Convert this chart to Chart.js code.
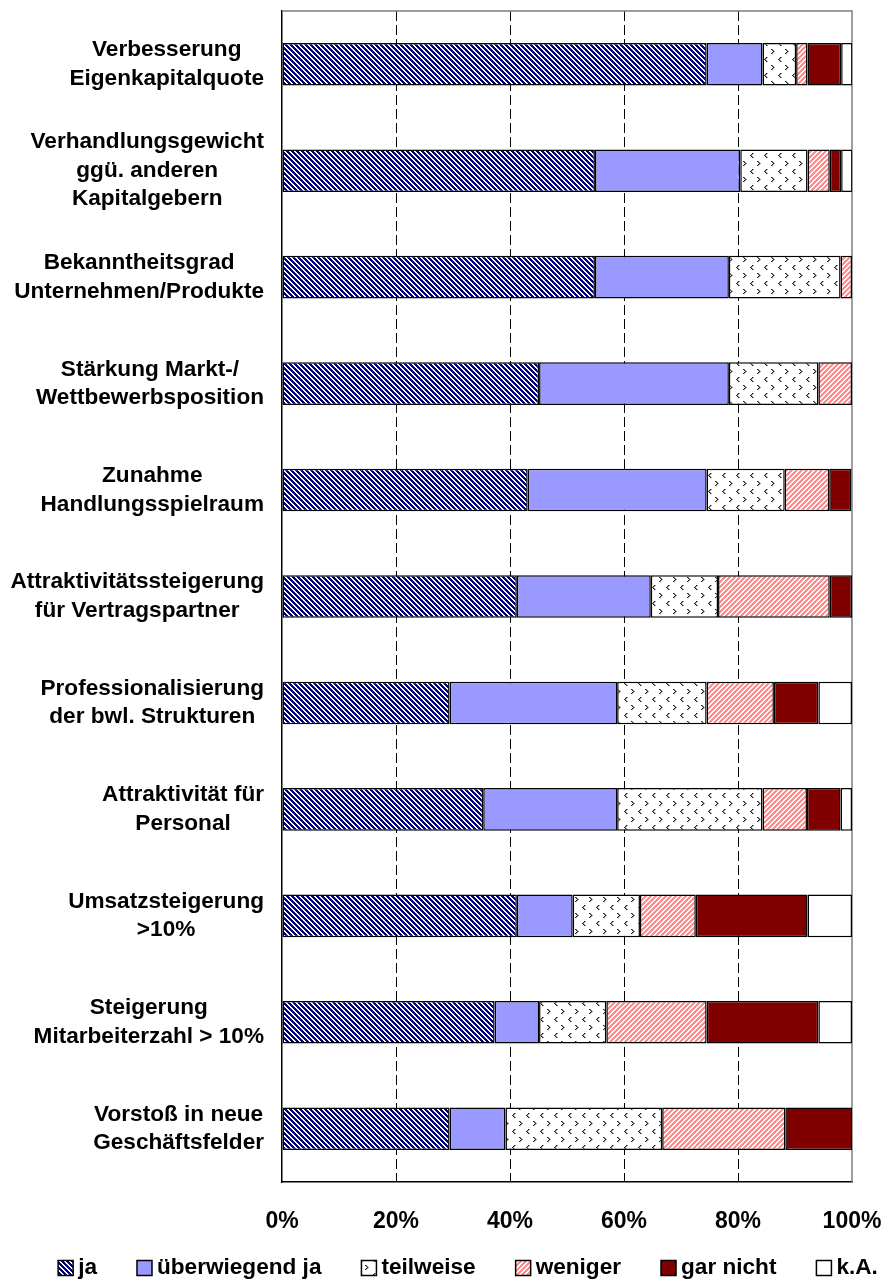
<!DOCTYPE html>
<html>
<head>
<meta charset="utf-8">
<script src="https://cdn.jsdelivr.net/npm/chart.js@4.4.0/dist/chart.umd.min.js"></script>
<style>
  html, body { margin: 0; padding: 0; background: #fff; }
</style>
</head>
<body>
<canvas id="chart" width="885" height="1279"></canvas>
<script>
  // categories (line breaks as in the original)
  const categories = [
    ["Verbesserung", "Eigenkapitalquote"],
    ["Verhandlungsgewicht", "ggü. anderen", "Kapitalgebern"],
    ["Bekanntheitsgrad", "Unternehmen/Produkte"],
    ["Stärkung Markt-/", "Wettbewerbsposition"],
    ["Zunahme", "Handlungsspielraum"],
    ["Attraktivitätssteigerung", "für Vertragspartner"],
    ["Professionalisierung", "der bwl. Strukturen"],
    ["Attraktivität für", "Personal"],
    ["Umsatzsteigerung", ">10%"],
    ["Steigerung", "Mitarbeiterzahl > 10%"],
    ["Vorstoß in neue", "Geschäftsfelder"]
  ];

  // shares in percent
  const ja = [74.5, 54.9, 54.9, 45.1, 43.1, 41.2, 29.4, 35.3, 41.2, 37.3, 29.4];
  const ueberwiegendJa = [9.8, 25.5, 23.5, 33.3, 31.4, 23.5, 29.4, 23.5, 9.8, 7.8, 9.8];
  const teilweise = [5.9, 11.8, 19.6, 15.7, 13.7, 11.8, 15.7, 25.5, 11.8, 11.8, 27.5];
  const weniger = [2.0, 3.9, 2.0, 5.9, 7.8, 19.6, 11.8, 7.8, 9.8, 17.6, 21.6];
  const garNicht = [5.9, 2.0, 0, 0, 3.9, 3.9, 7.8, 5.9, 19.6, 19.6, 11.8];
  const keineAngabe = [2.0, 2.0, 0, 0, 0, 0, 5.9, 2.0, 7.8, 5.9, 0];

  const seriesNames = ["ja", "überwiegend ja", "teilweise", "weniger", "gar nicht", "k.A."];
  const xTicks = [0, 20, 40, 60, 80, 100];

  const FONT = "'Liberation Sans', Arial, sans-serif";

  function makePattern(w, h, draw) {
    const c = document.createElement("canvas");
    c.width = w;
    c.height = h;
    const g = c.getContext("2d");
    g.fillStyle = "#fff";
    g.fillRect(0, 0, w, h);
    draw(g);
    return g.createPattern(c, "repeat");
  }

  const jaFill = makePattern(10, 10, g => {
    g.fillStyle = "#000080";
    for (let y = 0; y < 10; y++)
      for (let x = 0; x < 10; x++)
        if ((((x - y) % 5) + 5) % 5 < 3) g.fillRect(x, y, 1, 1);
  });

  const wenigerFill = makePattern(10, 10, g => {
    g.fillStyle = "#ff8f8f";
    for (let y = 0; y < 10; y++)
      for (let x = 0; x < 10; x++)
        if ((x + y) % 5 < 3) g.fillRect(x, y, 1, 1);
  });

  const teilweiseFill = makePattern(14, 16, g => {
    g.fillStyle = "#222";
    [[1, 1], [2, 2], [3, 3], [2, 4], [1, 5]].forEach(p => g.fillRect(p[0], p[1], 1.5, 1));
    [[10, 9], [9, 10], [8, 11], [9, 12], [10, 13]].forEach(p => g.fillRect(p[0], p[1], 1.5, 1));
  });

  const fills = [jaFill, "#9999ff", teilweiseFill, wenigerFill, "#800000", "#ffffff"];
  const values = [ja, ueberwiegendJa, teilweise, weniger, garNicht, keineAngabe];

  // frame on top / right of the plot area
  const plotFrame = {
    id: "plotFrame",
    beforeDatasetsDraw(chart) {
      const { ctx, chartArea: a } = chart;
      ctx.save();
      ctx.strokeStyle = "#7f7f7f";
      ctx.lineWidth = 1.5;
      ctx.beginPath();
      ctx.moveTo(a.left, a.top);
      ctx.lineTo(a.right, a.top);
      ctx.lineTo(a.right, a.bottom);
      ctx.stroke();
      ctx.restore();
    }
  };

  // multi-line category labels: lines centred, block right-aligned
  const categoryLabels = {
    id: "categoryLabels",
    afterDraw(chart) {
      const ctx = chart.ctx;
      const yScale = chart.scales.y;
      ctx.save();
      ctx.font = "bold 22.6px " + FONT;
      ctx.fillStyle = "#000";
      ctx.textAlign = "center";
      ctx.textBaseline = "middle";
      categories.forEach((lines, i) => {
        const w = Math.max(...lines.map(l => ctx.measureText(l).width));
        const cx = yScale.right - 18 - w / 2;
        const cy = yScale.getPixelForValue(i);
        lines.forEach((l, k) => {
          ctx.fillText(l, cx, cy + (k - (lines.length - 1) / 2) * 28.5);
        });
      });
      ctx.restore();
    }
  };

  const legendRow = {
    id: "legendRow",
    afterDraw(chart) {
      const ctx = chart.ctx;
      const box = 15, boxGap = 5, itemGap = 40, cy = 1268;
      ctx.save();
      ctx.font = "bold 22.6px " + FONT;
      const widths = chart.data.datasets.map(d => box + boxGap + ctx.measureText(d.label).width);
      const total = widths.reduce((a, b) => a + b, 0) + itemGap * (widths.length - 1);
      let x = 468 - total / 2;
      chart.data.datasets.forEach((d, i) => {
        ctx.fillStyle = d.backgroundColor;
        ctx.fillRect(x, cy - box / 2, box, box);
        ctx.strokeStyle = "#000";
        ctx.lineWidth = 1.5;
        ctx.strokeRect(x, cy - box / 2, box, box);
        ctx.fillStyle = "#000";
        ctx.textAlign = "left";
        ctx.textBaseline = "middle";
        ctx.fillText(d.label, x + box + boxGap, cy);
        x += widths[i] + itemGap;
      });
      ctx.restore();
    }
  };

  new Chart(document.getElementById("chart").getContext("2d"), {
    type: "bar",
    data: {
      labels: categories.map(c => c.join(" ")),
      datasets: seriesNames.map((name, i) => ({
        label: name,
        data: values[i],
        backgroundColor: fills[i],
        borderColor: "#000",
        borderWidth: 1.5,
        borderSkipped: false,
        barPercentage: 0.4,
        categoryPercentage: 1
      }))
    },
    options: {
      indexAxis: "y",
      responsive: false,
      animation: false,
      devicePixelRatio: 1,
      layout: { padding: { left: 0, right: 33, top: 11, bottom: 0 } },
      plugins: {
        legend: { display: false },
        tooltip: { enabled: false }
      },
      scales: {
        x: {
          stacked: true,
          min: 0,
          max: 100,
          afterBuildTicks: scale => { scale.ticks = xTicks.map(v => ({ value: v })); },
          afterFit: scale => {
            scale.height = 97;
            scale.paddingLeft = 0;
            scale.paddingRight = 0;
          },
          ticks: {
            callback: v => v + "%",
            color: "#000",
            font: { family: FONT, size: 23, weight: "bold" },
            padding: 26
          },
          grid: {
            drawTicks: false,
            color: c => (c.tick && (c.tick.value === 0 || c.tick.value === 100)) ? "rgba(0,0,0,0)" : "#000",
            lineWidth: 1
          },
          border: { display: true, color: "#000", width: 1.5, dash: [10, 4] }
        },
        y: {
          stacked: true,
          afterFit: scale => { scale.width = 282; },
          ticks: { display: false },
          grid: { display: false, drawTicks: false },
          border: { display: true, color: "#000", width: 1.5 }
        }
      }
    },
    plugins: [plotFrame, categoryLabels, legendRow]
  });
</script>
</body>
</html>
